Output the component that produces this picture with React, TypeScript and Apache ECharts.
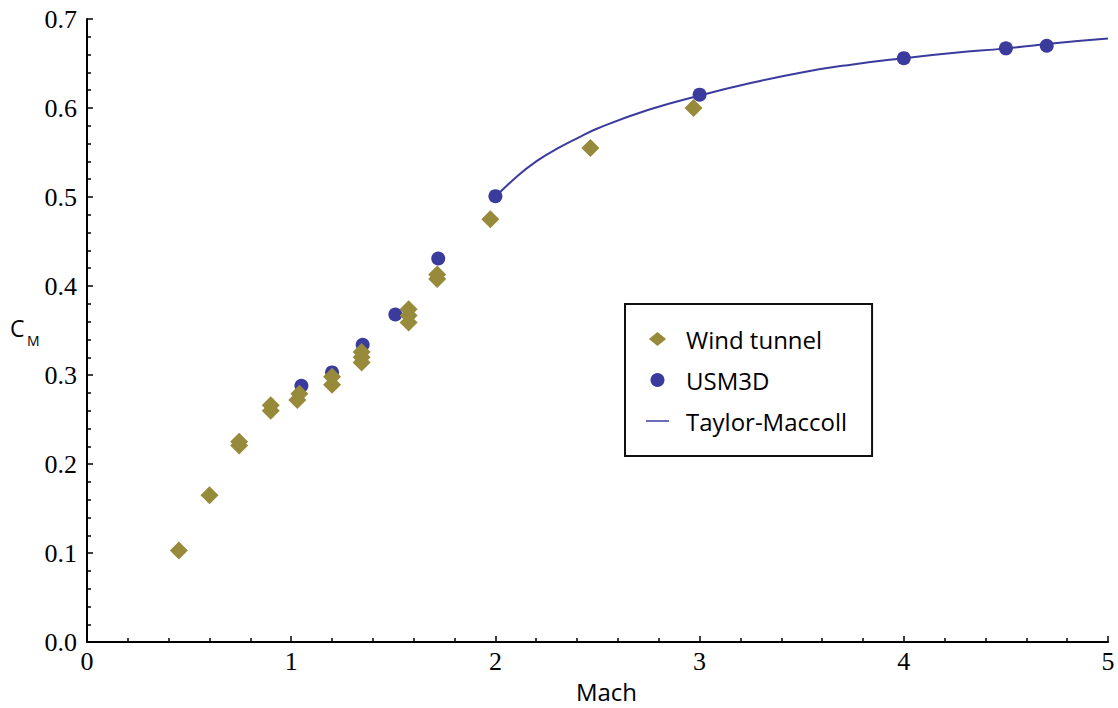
import React, { useEffect, useRef } from "react";
import * as echarts from "echarts";

const windMach = [0.45, 0.6, 0.745, 0.745, 0.9, 0.9, 1.03, 1.04, 1.2, 1.2, 1.345, 1.345, 1.345, 1.575, 1.575, 1.575, 1.715, 1.715, 1.975, 2.465, 2.97];
const windCm = [0.103, 0.165, 0.221, 0.225, 0.26, 0.266, 0.272, 0.279, 0.289, 0.298, 0.314, 0.32, 0.326, 0.359, 0.367, 0.374, 0.408, 0.413, 0.475, 0.555, 0.6];

const usmMach = [1.05, 1.2, 1.35, 1.51, 1.72, 2.0, 3.0, 4.0, 4.5, 4.7];
const usmCm = [0.288, 0.303, 0.334, 0.368, 0.431, 0.501, 0.615, 0.656, 0.667, 0.67];

const tmMach = [2.0, 2.1, 2.2, 2.3, 2.4, 2.5, 2.75, 3.0, 3.25, 3.5, 3.75, 4.0, 4.25, 4.5, 4.75, 5.0];
const tmCm = [0.5, 0.522, 0.54, 0.554, 0.566, 0.577, 0.598, 0.614, 0.628, 0.64, 0.649, 0.656, 0.662, 0.667, 0.673, 0.678];

const seriesNames = ["Wind tunnel", "USM3D", "Taylor-Maccoll"];

const OLIVE = "#978a3b";
const BLUE = "#3b3b9e";
const SANS = "Open Sans";
const SERIF = "Liberation Serif, Times New Roman, serif";

export default function App() {
  const ref = useRef<HTMLDivElement>(null);
  useEffect(() => {
    if (!ref.current) return;
    const chart = echarts.init(ref.current, undefined, { renderer: "svg" });
    const zip = (a: number[], b: number[]) => a.map((v, i) => [v, b[i]]);
    const axisCommon = {
      axisLine: { show: true, onZero: false, lineStyle: { color: "#000", width: 2 } },
      axisTick: { show: true, inside: true, length: 6, lineStyle: { color: "#000", width: 1.5 } },
      minorTick: { show: true, splitNumber: 5, length: 4, lineStyle: { color: "#000", width: 1.5 } },
      splitLine: { show: false },
      minorSplitLine: { show: false },
    };
    chart.setOption({
      animation: false,
      backgroundColor: "#fff",
      grid: { left: 87, right: 10, top: 19, bottom: 57, containLabel: false },
      xAxis: {
        type: "value",
        min: 0,
        max: 5,
        interval: 1,
        ...axisCommon,
        axisLabel: {
          color: "#000",
          fontFamily: SERIF,
          fontSize: 26,
          margin: 6,
        },
        name: "Mach",
        nameLocation: "middle",
        nameGap: 30,
        nameTextStyle: { color: "#000", fontFamily: SANS, fontSize: 24, padding: [0, 0, 0, 18] },
      },
      yAxis: {
        type: "value",
        min: 0,
        max: 0.7,
        interval: 0.1,
        ...axisCommon,
        axisLabel: {
          color: "#000",
          fontFamily: SERIF,
          fontSize: 26,
          margin: 10,
          formatter: (v: number) => v.toFixed(1),
        },
      },
      graphic: [
        {
          type: "text",
          left: 10,
          top: 316,
          style: { text: "C", fontFamily: SANS, fontSize: 23, fill: "#000" },
        },
        {
          type: "text",
          left: 27,
          top: 333,
          style: { text: "M", fontFamily: SANS, fontSize: 14, fill: "#000" },
        },
      ],
      legend: {
        orient: "vertical",
        left: 625,
        top: 304,
        data: [
          { name: seriesNames[0], icon: "path://M8,0L16,6.5L8,13L0,6.5Z" },
          { name: seriesNames[1], icon: "circle" },
          {
            name: seriesNames[2],
            icon: "path://M0,6.2H23V7.8H0Z M0,0H0.01V0.01H0Z M23,14H22.99V13.99H23Z",
          },
        ],
        itemWidth: 23,
        itemHeight: 14,
        itemGap: 15,
        itemStyle: { borderWidth: 0 },
        padding: [22, 25, 22, 21],
        borderColor: "#111",
        borderWidth: 2,
        textStyle: {
          fontFamily: SANS,
          fontSize: 24,
          color: "#000",
          lineHeight: 26,
          padding: [0, 0, 0, 12],
        },
      },
      series: [
        {
          name: seriesNames[2],
          type: "line",
          data: zip(tmMach, tmCm),
          smooth: true,
          symbol: "none",
          symbolKeepAspect: true,
          lineStyle: { color: BLUE, width: 2 },
          itemStyle: { color: BLUE },
          z: 2,
        },
        {
          name: seriesNames[1],
          type: "scatter",
          data: zip(usmMach, usmCm),
          symbol: "circle",
          symbolSize: 14,
          itemStyle: { color: BLUE, opacity: 1 },
          z: 3,
        },
        {
          name: seriesNames[0],
          type: "scatter",
          data: zip(windMach, windCm),
          symbol: "diamond",
          symbolSize: [18, 18],
          itemStyle: { color: OLIVE, opacity: 1 },
          z: 4,
        },
      ],
    });
    return () => chart.dispose();
  }, []);
  return (
    <div
      ref={ref}
      style={{ position: "absolute", left: 0, top: 0, width: 1118, height: 708 }}
    />
  );
}
